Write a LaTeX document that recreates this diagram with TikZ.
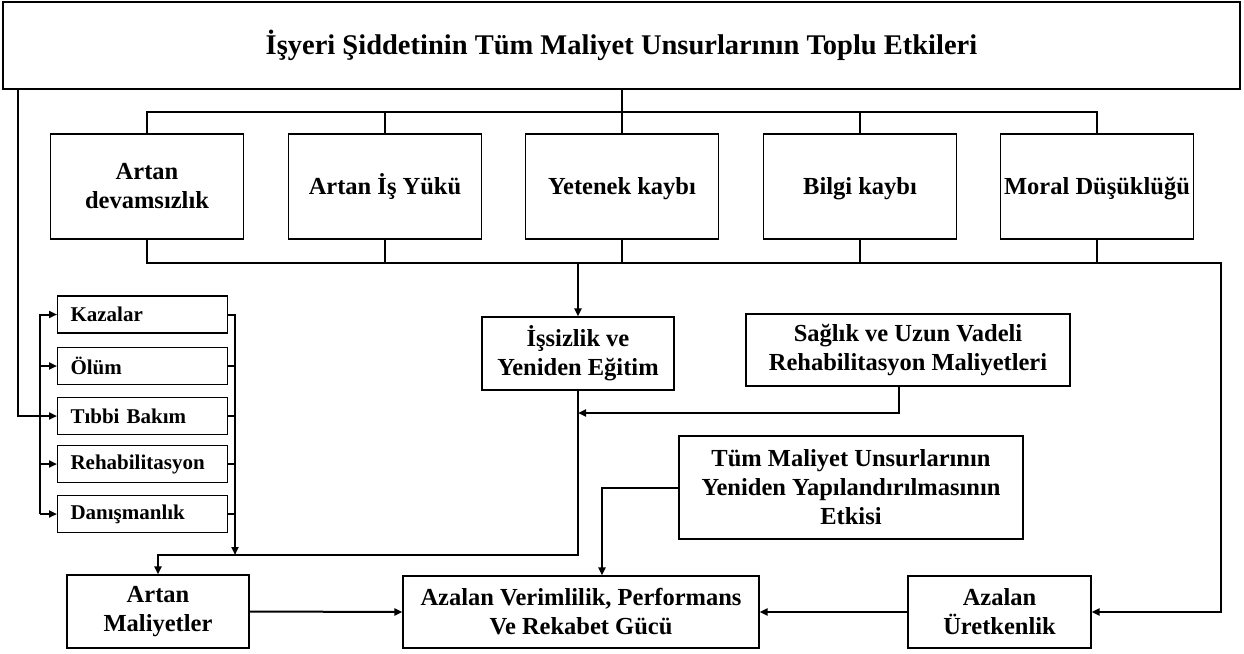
\documentclass[tikz,border=0pt]{standalone}
\usepackage{fontspec}
\setmainfont{Liberation Serif}
\usetikzlibrary{arrows.meta,calc}
\begin{document}
\begin{tikzpicture}[x=1pt,y=-1pt,
  box/.style={draw, line width=1.1pt, align=center, inner sep=2pt,
    font=\bfseries\fontsize{24.5}{29}\selectfont},
  sbox/.style={draw, line width=1.1pt, align=left, text width=144pt,
    inner xsep=13pt, inner ysep=0pt, minimum height=37pt, anchor=west,
    font=\bfseries\fontsize{21}{24}\selectfont},
  conn/.style={line width=2pt},
  arr/.style={conn, -{Triangle[length=8pt,width=7pt]}}]
\useasboundingbox (0,0) rectangle (1244,653);

% title
\node[box, line width=1.8pt, minimum width=1237pt, minimum height=87pt,
  font=\bfseries\fontsize{28.5}{32}\selectfont] (title) at (621.5,45.5)
  {İşyeri Şiddetinin Tüm Maliyet Unsurlarının Toplu Etkileri};

% top row
\node[box, minimum width=193pt, minimum height=105pt] (a1) at (147,186.5) {Artan\\devamsızlık};
\node[box, minimum width=193pt, minimum height=105pt] (a2) at (385,186.5) {Artan İş Yükü};
\node[box, minimum width=193pt, minimum height=105pt] (a3) at (622,186.5) {\vphantom{İ}Yetenek kaybı};
\node[box, minimum width=193pt, minimum height=105pt] (a4) at (860,186.5) {\vphantom{İ}Bilgi kaybı};
\node[box, minimum width=193pt, minimum height=105pt] (a5) at (1097,186.5) {\vphantom{İ}Moral Düşüklüğü};

% middle
\node[box, minimum width=192pt, minimum height=73pt] (is) at (578,353.5) {İşsizlik ve\\Yeniden Eğitim};
\node[box, minimum width=324pt, minimum height=72pt] (sg) at (908,350) {Sağlık ve Uzun Vadeli\\Rehabilitasyon Maliyetleri};
\node[box, minimum width=344pt, minimum height=103pt] (tm) at (851,487.5) {Tüm Maliyet Unsurlarının\\Yeniden Yapılandırılmasının\\Etkisi};

% small boxes
\node[sbox] (ka) at (57,314.5) {Kazalar};
\node[sbox] (ol) at (57,366) {Ölüm};
\node[sbox] (tb) at (57,416) {Tıbbi Bakım};
\node[sbox] (rh) at (57,464) {Rehabilitasyon};
\node[sbox] (dn) at (57,514) {Danışmanlık};

% bottom
\node[box, minimum width=182pt, minimum height=73pt] (am) at (158,611.5) {Artan\\Maliyetler};
\node[box, minimum width=356pt, minimum height=72pt] (av) at (581,612) {Azalan Verimlilik, Performans\\Ve Rekabet Gücü};
\node[box, minimum width=183pt, minimum height=72pt] (au) at (999.5,612) {Azalan\\Üretkenlik};

% coordinates
\coordinate (busT) at (0,112);
\coordinate (rb) at (1221,263);
\coordinate (lb) at (40,0);
\coordinate (j) at (235,555);
\coordinate (sgl) at (0,413);
\coordinate (lt) at (18,89);

% top bus
\draw[conn] (title.south -| a3.north) -- (a3.north |- busT);
\draw[conn] (a1.north) |- (a5.north |- busT) -- (a5.north);
\draw[conn] (a2.north) -- (a2.north |- busT);
\draw[conn] (a3.north) -- (a3.north |- busT);
\draw[conn] (a4.north) -- (a4.north |- busT);

% bottom bus
\draw[arr] (a1.south) |- (rb) |- (au.east);
\draw[conn] (a2.south) -- (a2.south |- rb);
\draw[conn] (a3.south) -- (a3.south |- rb);
\draw[conn] (a4.south) -- (a4.south |- rb);
\draw[conn] (a5.south) -- (a5.south |- rb);
\draw[arr] (is.north |- rb) -- (is.north);

% left feed
\draw[arr] (lt) |- (tb.west);
\draw[arr] (dn.west -| lb) |- (ka.west);
\draw[arr] (dn.west -| lb) -- (dn.west);
\draw[arr] (ol.west -| lb) -- (ol.west);
\draw[arr] (rh.west -| lb) -- (rh.west);

% right collector
\draw[arr] (ka.east) -| (j);
\draw[conn] (ol.east) -- (ol.east -| j);
\draw[conn] (tb.east) -- (tb.east -| j);
\draw[conn] (rh.east) -- (rh.east -| j);
\draw[conn] (dn.east) -- (dn.east -| j);

% middle flows
\draw[arr] (is.south) |- (am.north |- j) -- (am.north);
\draw[arr] ([xshift=-9pt]sg.south) |- (is.south |- sgl);
\draw[arr] (tm.west) -| ([xshift=21pt]av.north);

% bottom flows
\draw[arr] (am.east) -- (av.west);
\draw[arr] (au.west) -- (av.east);
\end{tikzpicture}
\end{document}
